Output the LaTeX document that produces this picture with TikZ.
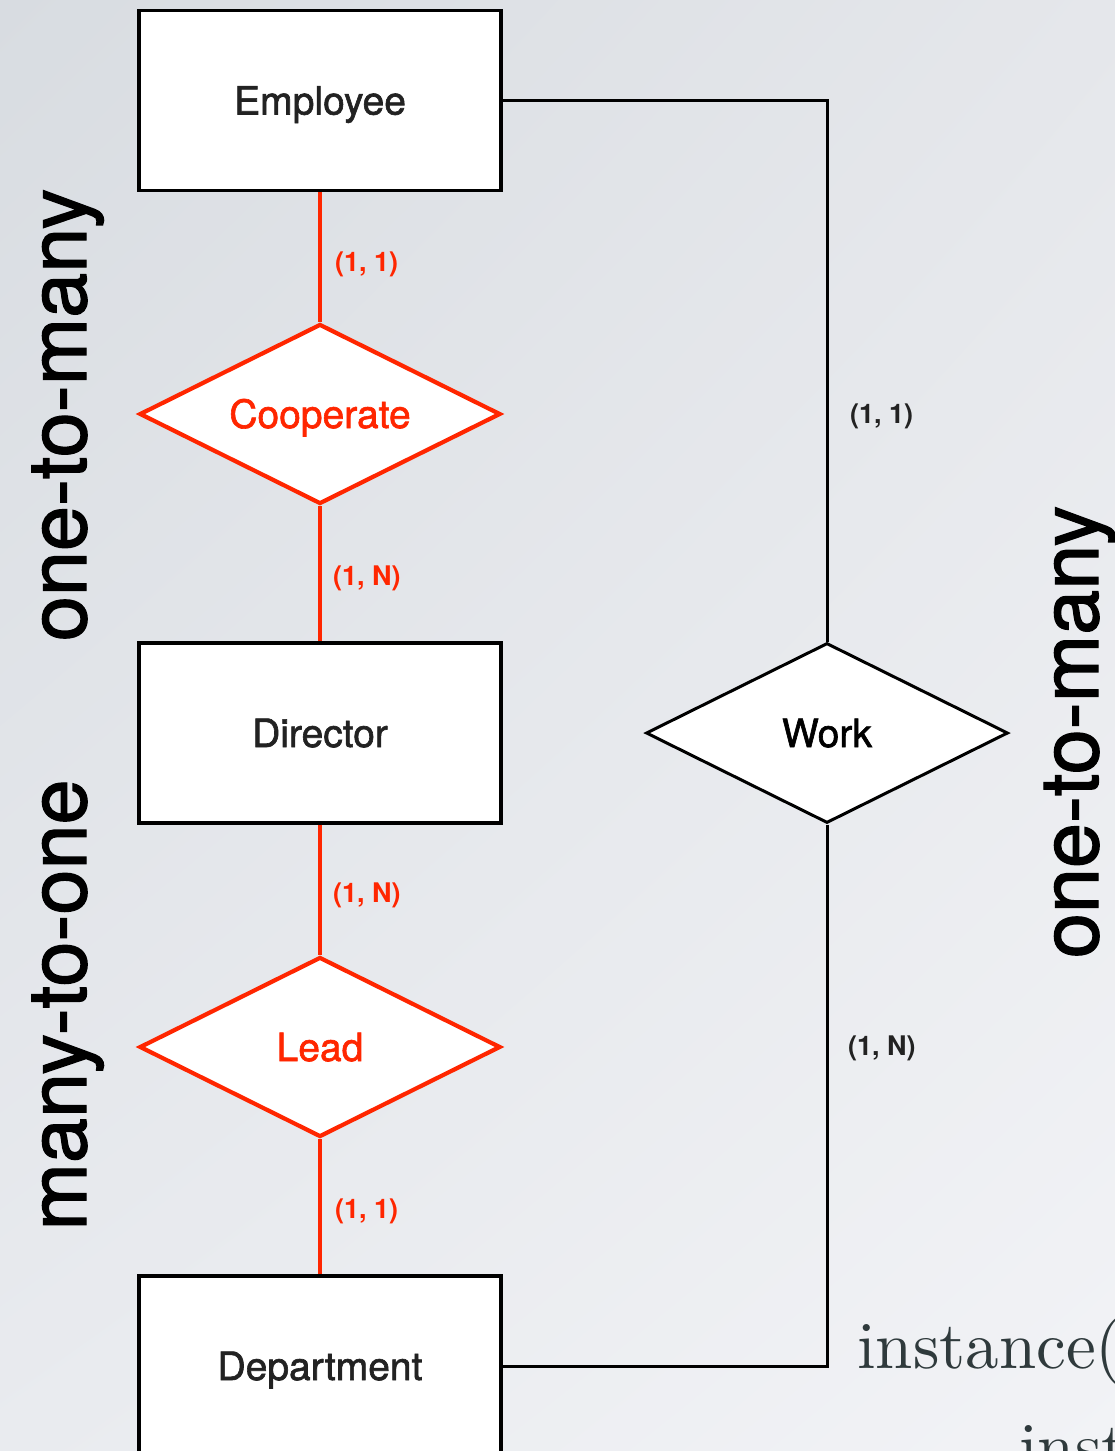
\documentclass[tikz,border=0pt]{standalone}
\usepackage{fontspec}
\newfontfamily\heros[FakeBold=1.6]{TeX Gyre Heros}
\newfontfamily\herosbold{TeX Gyre Heros}[BoldFont={* Bold}]
\newfontfamily\lmten{lmroman10-regular}[Extension=.otf]
\usetikzlibrary{shapes.geometric,shadings}
\definecolor{erred}{RGB}{255,38,0}
\definecolor{inkdark}{RGB}{34,34,34}
\definecolor{slate}{RGB}{47,58,60}
\definecolor{bgA}{RGB}{216,220,225}
\definecolor{bgB}{RGB}{229,231,235}
\definecolor{bgC}{RGB}{233,235,239}
\definecolor{bgD}{RGB}{242,243,246}
\tikzset{
  namefont/.style={font=\heros\fontsize{39}{47}\selectfont,
    text height=28pt, text depth=0pt},
  entity/.style={draw=black, line width=3.2pt, fill=white, rectangle,
    minimum width=362pt, minimum height=180pt, inner sep=0pt,
    text=inkdark, namefont},
  relred/.style={draw=erred, line width=4.2pt, fill=white, diamond, aspect=2,
    minimum width=361pt, minimum height=180pt, inner sep=0pt,
    text=erred, namefont},
  relblack/.style={draw=black, line width=3pt, fill=white, diamond, aspect=2,
    minimum width=362pt, minimum height=180pt, inner sep=0pt,
    text=black, namefont},
  redlink/.style={draw=erred, line width=4.4pt},
  blacklink/.style={draw=black, line width=3pt},
  cardred/.style={anchor=west, inner sep=0pt, text=erred,
    font=\herosbold\bfseries\fontsize{27}{31}\selectfont},
  cardblack/.style={anchor=west, inner sep=0pt, text=inkdark,
    font=\herosbold\bfseries\fontsize{27}{31}\selectfont},
  sidetag/.style={rotate=90, anchor=base, inner sep=0pt, text=black,
    font=\heros\fontsize{81}{97}\selectfont},
  formula/.style={anchor=base west, inner sep=0pt, text=slate,
    font=\lmten\fontsize{67}{80}\selectfont}
}
\begin{document}
\begin{tikzpicture}[x=1pt, y=-1pt]
  \useasboundingbox (0,0) rectangle (1115,1451);
  \clip (0,0) rectangle (1115,1451);
  % slide background
  \shade[upper left=bgA, upper right=bgB, lower left=bgC, lower right=bgD]
    (0,0) rectangle (1115,1451);

  % entities and relationships
  \node[entity] (emp) at (320,100.5) {Employee};
  \node[relred] (coop) at (320,414) {Cooperate};
  \node[entity] (dir) at (320,733) {Director};
  \node[relred] (lead) at (320,1047) {Lead};
  \node[entity] (dept) at (320,1366) {Department};
  \node[relblack] (work) at (827,733) {Work};

  % connectors
  \draw[redlink] (emp) -- (coop);
  \draw[redlink] (coop) -- (dir);
  \draw[redlink] (dir) -- (lead);
  \draw[redlink] (lead) -- (dept);
  \draw[blacklink] (emp.east) -| (work.north);
  \draw[blacklink] (work.south) |- (dept.east);

  % cardinalities
  \node[cardred] (c1) at (335,264) {(1, 1)};
  \node[cardred] (c2) at (333,578) {(1, N)};
  \node[cardred] (c3) at (333,895) {(1, N)};
  \node[cardred] (c4) at (335,1211) {(1, 1)};
  \node[cardblack] (c5) at (850,416) {(1, 1)};
  \node[cardblack] (c6) at (848,1048) {(1, N)};

  % side annotations
  \node[sidetag] (t1) at (86,415) {one-to-many};
  \node[sidetag] (t2) at (86,1005) {many-to-one};
  \node[sidetag] (t3) at (1098,732) {one-to-many};

  % formula lines
  \node[formula] (f1) at (857,1368) {instance(};
  \node[formula] (f2) at (1019,1469) {inst};
\end{tikzpicture}
\end{document}
